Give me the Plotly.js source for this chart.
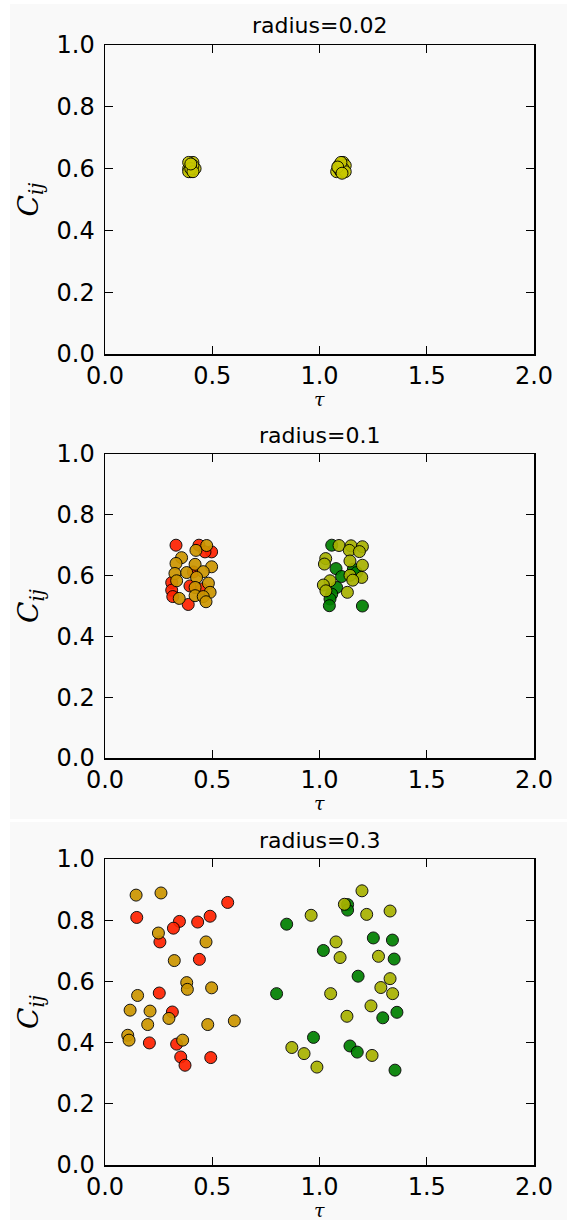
<!DOCTYPE html>
<html>
<head>
<meta charset="utf-8">
<script src="https://cdn.plot.ly/plotly-3.0.1.min.js"></script>
<style>
  html, body { margin: 0; padding: 0; background: #ffffff; }
  #chart { width: 567px; height: 1220px; }
</style>
</head>
<body>
<div id="chart"></div>
<script>
// ---- data -------------------------------------------------------------
const panelTitles = ['radius=0.02', 'radius=0.1', 'radius=0.3'];
const tauTicks = [0.0, 0.5, 1.0, 1.5, 2.0];
const cTicks = [0.0, 0.2, 0.4, 0.6, 0.8, 1.0];

// radius = 0.02
const r1LeftTau  = [0.40, 0.41, 0.39, 0.40, 0.42, 0.39, 0.41, 0.39, 0.40, 0.41, 0.40];
const r1LeftC    = [0.61, 0.62, 0.60, 0.59, 0.60, 0.59, 0.61, 0.62, 0.60, 0.59, 0.615];
const r1RightTau = [1.09, 1.11, 1.10, 1.08, 1.12, 1.10, 1.09, 1.11, 1.12, 1.10, 1.085, 1.105];
const r1RightC   = [0.61, 0.62, 0.60, 0.59, 0.61, 0.59, 0.60, 0.60, 0.59, 0.62, 0.605, 0.585];

// radius = 0.1
const r2RedTau   = [0.331, 0.438, 0.497, 0.466, 0.412, 0.311, 0.396, 0.311, 0.316, 0.451, 0.388];
const r2RedC     = [0.700, 0.700, 0.678, 0.678, 0.612, 0.577, 0.566, 0.552, 0.531, 0.556, 0.505];
const r2GoldTau  = [0.474, 0.424, 0.357, 0.331, 0.420, 0.497, 0.458, 0.326, 0.381, 0.427, 0.334, 0.482, 0.420, 0.490, 0.420, 0.346, 0.458, 0.471];
const r2GoldC    = [0.699, 0.683, 0.659, 0.640, 0.637, 0.629, 0.613, 0.607, 0.610, 0.594, 0.583, 0.575, 0.561, 0.545, 0.534, 0.525, 0.531, 0.514];
const r2GreenTau = [1.057, 1.077, 1.158, 1.103, 1.173, 1.080, 1.057, 1.049, 1.046, 1.200];
const r2GreenC   = [0.700, 0.623, 0.621, 0.597, 0.610, 0.561, 0.539, 0.523, 0.501, 0.500];
const r2OliveTau = [1.091, 1.147, 1.200, 1.139, 1.186, 1.029, 1.023, 1.142, 1.200, 1.142, 1.197, 1.155, 1.049, 1.018, 1.030, 1.130];
const r2OliveC   = [0.699, 0.698, 0.695, 0.683, 0.679, 0.656, 0.638, 0.648, 0.634, 0.601, 0.594, 0.585, 0.583, 0.569, 0.550, 0.545];

// radius = 0.3
const r3RedTau   = [0.572, 0.148, 0.347, 0.319, 0.432, 0.490, 0.256, 0.440, 0.253, 0.314, 0.207, 0.334, 0.353, 0.493, 0.373];
const r3RedC     = [0.858, 0.809, 0.796, 0.774, 0.794, 0.813, 0.729, 0.672, 0.562, 0.500, 0.399, 0.395, 0.353, 0.351, 0.326];
const r3GoldTau  = [0.145, 0.261, 0.249, 0.471, 0.323, 0.381, 0.384, 0.497, 0.152, 0.117, 0.210, 0.298, 0.199, 0.479, 0.603, 0.106, 0.112, 0.362];
const r3GoldC    = [0.882, 0.889, 0.758, 0.729, 0.668, 0.596, 0.574, 0.579, 0.554, 0.506, 0.503, 0.479, 0.459, 0.459, 0.471, 0.424, 0.408, 0.408];
const r3GreenTau = [1.131, 1.131, 0.847, 1.251, 1.340, 1.018, 1.348, 1.180, 0.800, 1.361, 1.295, 0.972, 1.142, 1.176, 1.352];
const r3GreenC   = [0.851, 0.833, 0.787, 0.742, 0.735, 0.701, 0.673, 0.617, 0.560, 0.499, 0.481, 0.417, 0.389, 0.369, 0.310];
const r3OliveTau = [1.198, 1.116, 1.220, 1.329, 0.961, 1.077, 1.096, 1.275, 1.329, 1.286, 1.341, 1.052, 1.240, 1.128, 0.871, 0.928, 1.245, 0.988];
const r3OliveC   = [0.896, 0.852, 0.819, 0.830, 0.816, 0.729, 0.678, 0.682, 0.609, 0.580, 0.560, 0.560, 0.520, 0.486, 0.384, 0.364, 0.358, 0.320];

// ---- styling ----------------------------------------------------------
const W = 567, H = 1220;
const BG = '#f9f9f9';
const COLORS = { red: '#ff2200', gold: '#cc9600', olive: '#a8b200', green: '#008000', yellow: '#c8c800' };
const FONT = 'DejaVu Sans, sans-serif';

// pixel frames of the three axes boxes: [left, right, top, bottom]
const frames = [
  [105, 534, 45, 354],
  [105, 534, 454, 758],
  [105, 534, 859, 1165]
];
const px = v => v / W;
const py = v => 1 - v / H;

function pts(x, y, color, axisIdx) {
  const s = axisIdx === 0 ? '' : String(axisIdx + 1);
  return {
    type: 'scatter', mode: 'markers', x: x, y: y,
    xaxis: 'x' + s, yaxis: 'y' + s,
    marker: { size: 12, color: color, opacity: 0.92, line: { color: '#000000', width: 1 } },
    hoverinfo: 'x+y', showlegend: false
  };
}

const data = [
  pts(r1LeftTau, r1LeftC, COLORS.yellow, 0),
  pts(r1RightTau, r1RightC, COLORS.yellow, 0),
  pts(r2RedTau, r2RedC, COLORS.red, 1),
  pts(r2GoldTau, r2GoldC, COLORS.gold, 1),
  pts(r2GreenTau, r2GreenC, COLORS.green, 1),
  pts(r2OliveTau, r2OliveC, COLORS.olive, 1),
  pts(r3RedTau, r3RedC, COLORS.red, 2),
  pts(r3GoldTau, r3GoldC, COLORS.gold, 2),
  pts(r3GreenTau, r3GreenC, COLORS.green, 2),
  pts(r3OliveTau, r3OliveC, COLORS.olive, 2)
];

const layout = {
  width: W, height: H,
  margin: { l: 0, r: 0, t: 0, b: 0 },
  paper_bgcolor: BG, plot_bgcolor: BG,
  showlegend: false,
  annotations: [],
  shapes: [
    // thin white borders of the figure canvas
    { type: 'rect', xref: 'paper', yref: 'paper', x0: 0, x1: px(10), y0: 0, y1: 1, fillcolor: '#ffffff', line: { width: 0 }, layer: 'below' },
    { type: 'rect', xref: 'paper', yref: 'paper', x0: 0, x1: 1, y0: py(4), y1: 1, fillcolor: '#ffffff', line: { width: 0 }, layer: 'below' },
    { type: 'rect', xref: 'paper', yref: 'paper', x0: 0, x1: 1, y0: py(822), y1: py(819), fillcolor: '#ffffff', line: { width: 0 }, layer: 'below' }
  ]
};

const axisCommon = {
  showgrid: false, zeroline: false,
  showline: true, linecolor: '#000000', linewidth: 1.5, mirror: 'allticks',
  ticks: 'inside', ticklen: 8, tickwidth: 1, tickcolor: '#000000',
  tickfont: { family: FONT, size: 24, color: '#000000' },
  tickformat: '.1f', fixedrange: true
};

frames.forEach((f, i) => {
  const s = i === 0 ? '' : String(i + 1);
  layout['xaxis' + s] = Object.assign({}, axisCommon, {
    domain: [px(f[0]), px(f[1])], range: [0, 2], anchor: 'y' + s,
    tickmode: 'array', tickvals: tauTicks, ticklabelstandoff: 0
  });
  layout['yaxis' + s] = Object.assign({}, axisCommon, {
    domain: [py(f[3]), py(f[2])], range: [0, 1], anchor: 'x' + s,
    tickmode: 'array', tickvals: cTicks, ticklabelstandoff: 4
  });
  const cx = (f[0] + f[1]) / 2;
  layout.annotations.push(
    { text: panelTitles[i], xref: 'paper', yref: 'paper', x: px(cx), y: py(f[2] - 19),
      showarrow: false, xanchor: 'center', yanchor: 'middle',
      font: { family: FONT, size: 22, color: '#000000' } },
    { text: '<i>τ</i>', xref: 'paper', yref: 'paper', x: px(cx), y: py(f[3] + 45),
      showarrow: false, xanchor: 'center', yanchor: 'middle',
      font: { family: 'DejaVu Serif, serif', size: 19, color: '#000000' } },
    { text: '<i>C</i><sub><i>ij</i></sub>', xref: 'paper', yref: 'paper', x: px(30), y: py((f[2] + f[3]) / 2),
      showarrow: false, xanchor: 'center', yanchor: 'middle', textangle: -90,
      font: { family: 'DejaVu Serif, serif', size: 28, color: '#000000' } }
  );
});

Plotly.newPlot('chart', data, layout, { staticPlot: true });
</script>
</body>
</html>
